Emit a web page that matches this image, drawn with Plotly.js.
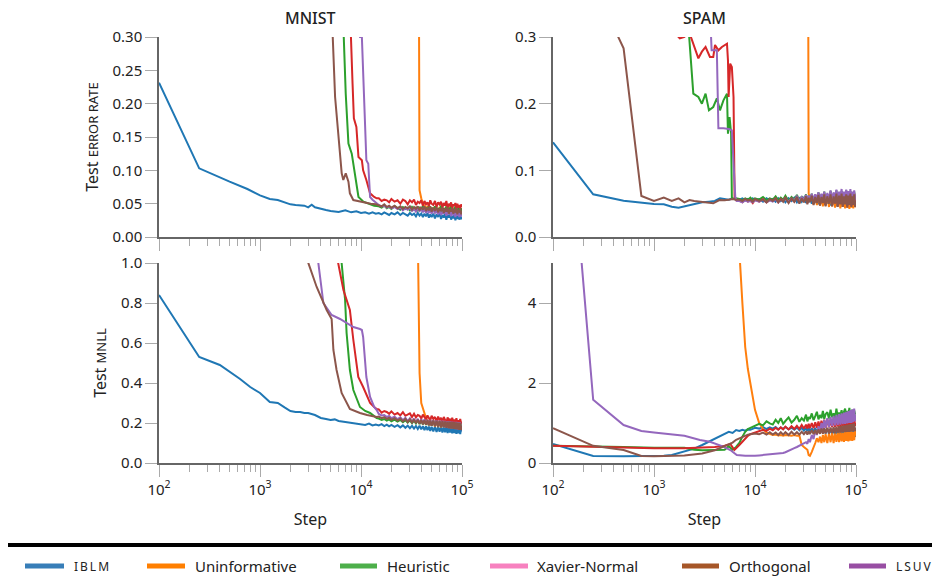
<!DOCTYPE html>
<html>
<head>
<meta charset="utf-8">
<script src="https://cdn.plot.ly/plotly-3.0.1.min.js"></script>
<style>html,body{margin:0;padding:0;background:#fff;}#chart{width:942px;height:582px;}</style>
</head>
<body>
<div id="chart"></div>
<script>
// ---------- categories ----------
const METHODS = ['IBLM', 'Uninformative', 'Heuristic', 'Xavier-Normal', 'Orthogonal', 'LSUV'];
const LINE_COLORS = ['#1f77b4', '#ff7f0e', '#2ca02c', '#d62728', '#8c564b', '#9467bd'];
const LEGEND_COLORS = ['#377eb8', '#ff7f00', '#4daf4a', '#f781bf', '#a65628', '#984ea3'];
const PANEL_TITLES = ['MNIST', 'SPAM'];
const X_TICK_EXPONENTS = [2, 3, 4, 5];

// ---------- shared tail step grids ----------
const TAIL_M = [15000,16000,17000,18000,19000,20000,21500,23000,24500,26000,27500,29000,30500,32000,33500,35000,36500,38000,39500,41000,42500,44000,45500,47000,48500,50000,52000,54000,56000,58000,60000,62000,64000,66000,68000,70000,72000,74000,76000,78000,80000,82000,84000,86000,88000,90000,92000,94000,96000,98000,100000];
const TAIL_S = [7000,7500,8000,8500,9000,9500,10000,11000,12000,13000,14000,15000,16000,17000,18000,19000,20000,21500,23000,24500,26000,27500,29000,30500,32000,33000,34000,35000,36500,38000,39500,41000,42500,44000,45500,47000,48500,50000,52000,54000,56000,58000,60000,62000,64000,66000,68000,70000,72000,74000,76000,78000,80000,82000,84000,86000,88000,90000,92000,94000,96000,98000,100000];

// ================= MNIST test error rate =================
const ERR_M_IBLM_STEPS = [100,250,500,750,1000,1250,1500,1750,2000,2250,2500,2750,3000,3250,3500,4000,4500,5000,6000,7000,8000,9000,10000,11000,12000,13000,14000];
const ERR_M_IBLM = [0.2315,0.103,0.083,0.072,0.0625,0.057,0.0555,0.052,0.049,0.048,0.048,0.047,0.0445,0.0485,0.0445,0.042,0.0405,0.039,0.0375,0.040,0.037,0.0385,0.036,0.037,0.035,0.037,0.035];
const ERR_M_IBLM_TAIL = [0.036,0.034,0.037,0.035,0.033,0.036,0.034,0.037,0.033,0.036,0.034,0.032,0.036,0.033,0.035,0.031,0.036,0.032,0.035,0.030,0.035,0.031,0.036,0.029,0.034,0.030,0.035,0.028,0.034,0.030,0.036,0.027,0.033,0.029,0.035,0.026,0.033,0.029,0.035,0.026,0.032,0.028,0.034,0.025,0.031,0.027,0.033,0.026,0.032,0.027,0.030];

const ERR_M_UNINF_STEPS = [];
const ERR_M_UNINF = [];
const ERR_M_UNINF_TAIL = [null,null,null,null,null,null,null,null,null,null,null,null,null,null,null,null,0.9,0.07,0.058,0.050,0.047,0.042,0.046,0.039,0.045,0.038,0.044,0.036,0.043,0.037,0.045,0.035,0.042,0.036,0.044,0.034,0.042,0.036,0.045,0.033,0.041,0.035,0.044,0.033,0.040,0.035,0.043,0.032,0.040,0.034,0.037];

const ERR_M_HEUR_STEPS = [6400,6750,7060,7510,8100,8750,9440,10560,12000,13500];
const ERR_M_HEUR = [0.6,0.30,0.215,0.14,0.125,0.09,0.06,0.053,0.05,0.047];
const ERR_M_HEUR_TAIL = [0.046,0.044,0.047,0.043,0.045,0.042,0.046,0.043,0.041,0.045,0.042,0.044,0.040,0.045,0.041,0.044,0.039,0.045,0.041,0.046,0.039,0.044,0.040,0.047,0.038,0.044,0.039,0.046,0.037,0.043,0.040,0.047,0.036,0.043,0.039,0.046,0.036,0.044,0.038,0.047,0.035,0.042,0.039,0.046,0.035,0.043,0.038,0.047,0.035,0.041,0.043];

const ERR_M_XAV_STEPS = [7700,7950,8250,8500,9000,9440,10200,10500,11300,12300,13500,14300];
const ERR_M_XAV = [0.6,0.30,0.23,0.178,0.165,0.12,0.115,0.10,0.0855,0.0655,0.06,0.058];
const ERR_M_XAV_TAIL = [0.058,0.054,0.056,0.055,0.052,0.057,0.053,0.055,0.050,0.056,0.054,0.049,0.055,0.052,0.056,0.048,0.053,0.051,0.055,0.047,0.054,0.049,0.052,0.046,0.055,0.050,0.048,0.054,0.045,0.052,0.049,0.053,0.044,0.051,0.047,0.054,0.043,0.050,0.046,0.052,0.042,0.049,0.047,0.051,0.041,0.050,0.044,0.048,0.042,0.049,0.045];

const ERR_M_ORTH_STEPS = [5000,5250,5540,6000,6440,6680,7060,7510,7760,8390,9770,11000,12500,14000];
const ERR_M_ORTH = [0.6,0.30,0.21,0.15,0.0955,0.0855,0.0955,0.083,0.0655,0.0555,0.053,0.051,0.050,0.049];
const ERR_M_ORTH_TAIL = [0.048,0.046,0.049,0.045,0.047,0.044,0.047,0.043,0.046,0.042,0.045,0.043,0.046,0.041,0.045,0.042,0.046,0.040,0.045,0.041,0.046,0.039,0.044,0.040,0.046,0.038,0.044,0.039,0.045,0.037,0.043,0.039,0.045,0.036,0.043,0.038,0.045,0.035,0.042,0.038,0.044,0.035,0.042,0.037,0.044,0.034,0.041,0.037,0.043,0.034,0.039];

const ERR_M_LSUV_STEPS = [9500,9800,10200,11000,11300,11800,12300,13000,13700,14300];
const ERR_M_LSUV = [0.6,0.30,0.30,0.18,0.115,0.11,0.06,0.056,0.053,0.05];
const ERR_M_LSUV_TAIL = [0.048,0.046,0.047,0.044,0.046,0.043,0.045,0.042,0.044,0.040,0.043,0.041,0.044,0.039,0.042,0.038,0.043,0.039,0.041,0.037,0.042,0.036,0.041,0.037,0.040,0.035,0.041,0.036,0.039,0.034,0.040,0.033,0.038,0.035,0.040,0.032,0.038,0.034,0.039,0.031,0.037,0.033,0.039,0.030,0.036,0.032,0.038,0.030,0.036,0.031,0.034];

// ================= MNIST test MNLL =================
const NLL_M_IBLM_STEPS = [100,250,400,635,800,1000,1250,1500,1750,2000,2250,2500,2750,3000,3500,4000,4500,5000,5500,6000,7000,8000,9000,10000,11000,12000,13000,14000];
const NLL_M_IBLM = [0.84,0.53,0.49,0.42,0.38,0.35,0.305,0.30,0.278,0.26,0.255,0.255,0.25,0.25,0.24,0.225,0.22,0.215,0.218,0.21,0.205,0.20,0.198,0.195,0.19,0.197,0.188,0.192];
const NLL_M_IBLM_TAIL = [0.188,0.194,0.185,0.192,0.183,0.190,0.181,0.189,0.178,0.188,0.176,0.187,0.174,0.186,0.172,0.185,0.170,0.186,0.168,0.184,0.165,0.183,0.164,0.182,0.160,0.181,0.158,0.182,0.155,0.180,0.156,0.181,0.152,0.178,0.154,0.180,0.150,0.177,0.152,0.179,0.148,0.176,0.150,0.178,0.146,0.175,0.149,0.177,0.145,0.172,0.158];

const NLL_M_UNINF_STEPS = [];
const NLL_M_UNINF = [];
const NLL_M_UNINF_TAIL = [null,null,null,null,null,null,null,null,null,null,null,null,null,null,null,null,1.15,0.45,0.30,0.27,0.245,0.225,0.215,0.205,0.212,0.186,0.214,0.183,0.210,0.180,0.215,0.178,0.209,0.181,0.216,0.176,0.208,0.180,0.214,0.175,0.207,0.178,0.213,0.174,0.206,0.179,0.212,0.173,0.205,0.177,0.19];

const NLL_M_HEUR_STEPS = [6200,6430,6960,7200,7760,8400,9770,11000,12300,13500,14300];
const NLL_M_HEUR = [1.5,1.0,0.815,0.65,0.465,0.365,0.28,0.26,0.25,0.235,0.225];
const NLL_M_HEUR_TAIL = [0.222,0.215,0.220,0.212,0.218,0.209,0.217,0.207,0.215,0.204,0.214,0.202,0.213,0.199,0.212,0.198,0.214,0.195,0.211,0.193,0.213,0.191,0.210,0.189,0.212,0.187,0.211,0.186,0.212,0.183,0.209,0.184,0.211,0.180,0.208,0.182,0.211,0.178,0.207,0.181,0.210,0.176,0.206,0.180,0.209,0.175,0.205,0.178,0.208,0.174,0.19];

const NLL_M_XAV_STEPS = [5600,5940,6700,7760,8400,9400,10500,12300,13500,14300];
const NLL_M_XAV = [1.5,1.0,0.865,0.765,0.615,0.43,0.38,0.30,0.28,0.27];
const NLL_M_XAV_TAIL = [0.268,0.252,0.260,0.255,0.246,0.258,0.242,0.250,0.238,0.254,0.236,0.244,0.248,0.230,0.246,0.228,0.240,0.236,0.222,0.242,0.226,0.218,0.238,0.224,0.214,0.236,0.220,0.230,0.208,0.232,0.215,0.226,0.205,0.230,0.212,0.200,0.228,0.210,0.222,0.196,0.226,0.205,0.218,0.194,0.224,0.200,0.214,0.192,0.220,0.198,0.205];

const NLL_M_ORTH_STEPS = [2800,3010,3640,4570,5120,5330,5730,6430,7760,9770,11500,13000,14300];
const NLL_M_ORTH = [1.5,1.0,0.88,0.765,0.72,0.565,0.465,0.35,0.27,0.25,0.24,0.235,0.23];
const NLL_M_ORTH_TAIL = [0.232,0.224,0.229,0.220,0.226,0.216,0.224,0.212,0.222,0.208,0.221,0.205,0.219,0.202,0.218,0.199,0.217,0.196,0.216,0.193,0.215,0.191,0.214,0.188,0.213,0.186,0.212,0.184,0.211,0.182,0.210,0.180,0.209,0.178,0.208,0.176,0.207,0.174,0.206,0.172,0.205,0.171,0.204,0.169,0.203,0.168,0.202,0.166,0.201,0.165,0.185];

const NLL_M_LSUV_STEPS = [3500,3780,4240,5120,6200,7200,8400,9770,10200,10500,11300,12300,13500,14300];
const NLL_M_LSUV = [1.5,1.0,0.80,0.74,0.72,0.70,0.68,0.67,0.665,0.63,0.43,0.33,0.28,0.265];
const NLL_M_LSUV_TAIL = [0.245,0.238,0.240,0.230,0.235,0.224,0.232,0.219,0.228,0.214,0.226,0.210,0.224,0.206,0.222,0.203,0.221,0.200,0.219,0.197,0.218,0.194,0.216,0.192,0.215,0.189,0.214,0.187,0.213,0.184,0.212,0.182,0.211,0.180,0.210,0.177,0.209,0.175,0.208,0.173,0.207,0.171,0.206,0.170,0.205,0.168,0.204,0.166,0.203,0.165,0.185];

// ================= SPAM test error rate =================
const ERR_S_IBLM_STEPS = [100,250,500,750,1000,1250,1500,1750,2000,2500,3000,3500,4000,4500,5000,5500,6000,6500];
const ERR_S_IBLM = [0.142,0.064,0.0545,0.051,0.0495,0.049,0.0455,0.044,0.046,0.05,0.052,0.053,0.054,0.058,0.0575,0.056,0.058,0.056];
const ERR_S_IBLM_TAIL = [0.056,0.058,0.055,0.057,0.054,0.058,0.055,0.057,0.053,0.058,0.055,0.057,0.053,0.058,0.054,0.057,0.052,0.058,0.054,0.059,0.052,0.058,0.053,0.060,0.051,0.058,0.052,0.061,0.050,0.059,0.051,0.062,0.049,0.060,0.050,0.062,0.048,0.060,0.050,0.063,0.047,0.061,0.049,0.063,0.046,0.061,0.049,0.064,0.046,0.061,0.048,0.064,0.045,0.062,0.048,0.065,0.045,0.062,0.047,0.064,0.046,0.061,0.050];

const ERR_S_UNINF_STEPS = [];
const ERR_S_UNINF = [];
const ERR_S_UNINF_TAIL = [null,null,null,null,null,null,null,null,null,null,null,null,null,null,null,null,null,null,null,null,null,null,null,null,null,0.9,0.065,0.058,0.063,0.049,0.064,0.048,0.065,0.047,0.063,0.046,0.066,0.047,0.064,0.045,0.066,0.046,0.065,0.044,0.066,0.046,0.064,0.043,0.066,0.045,0.065,0.043,0.066,0.044,0.064,0.042,0.065,0.044,0.066,0.043,0.064,0.045,0.052];

const ERR_S_HEUR_STEPS = [1500,2230,2450,2750,2980,3240,3500,3860,4190,4500,4870,5280,5400,5600,5800,5900,6200,6500];
const ERR_S_HEUR = [0.6,0.30,0.215,0.21,0.20,0.215,0.19,0.195,0.208,0.19,0.205,0.215,0.155,0.18,0.155,0.058,0.057,0.058];
const ERR_S_HEUR_TAIL = [0.057,0.055,0.058,0.056,0.059,0.055,0.058,0.056,0.060,0.055,0.058,0.056,0.061,0.055,0.059,0.056,0.062,0.054,0.060,0.056,0.063,0.054,0.061,0.055,0.064,0.053,0.062,0.055,0.065,0.053,0.063,0.054,0.067,0.052,0.064,0.054,0.068,0.051,0.064,0.053,0.069,0.051,0.065,0.053,0.070,0.050,0.065,0.052,0.069,0.050,0.066,0.052,0.070,0.049,0.066,0.052,0.069,0.049,0.065,0.051,0.068,0.050,0.060];

const ERR_S_XAV_STEPS = [1500,1680,1800,2000,2200,2450,2750,2980,3240,3580,3860,4020,4340,4700,5080,5280,5400,5480,5680,5900,6130,6280,6500];
const ERR_S_XAV = [0.32,0.303,0.298,0.30,0.31,0.29,0.268,0.278,0.285,0.27,0.27,0.288,0.28,0.285,0.288,0.29,0.265,0.21,0.26,0.255,0.21,0.06,0.055];
const ERR_S_XAV_TAIL = [0.055,0.052,0.056,0.053,0.055,0.051,0.056,0.053,0.057,0.052,0.056,0.054,0.058,0.052,0.057,0.054,0.059,0.052,0.058,0.053,0.060,0.052,0.059,0.053,0.061,0.051,0.059,0.053,0.062,0.050,0.060,0.052,0.063,0.050,0.061,0.052,0.064,0.049,0.061,0.051,0.065,0.049,0.062,0.051,0.065,0.048,0.062,0.050,0.066,0.048,0.062,0.050,0.066,0.047,0.063,0.050,0.065,0.047,0.062,0.049,0.066,0.048,0.057];

const ERR_S_ORTH_STEPS = [100,250,500,750,1000,1250,1500,1750,2000,2250,2500,2850,3250,3860,4440,5000,5500,6000,6500];
const ERR_S_ORTH = [0.5,0.38,0.283,0.0615,0.054,0.059,0.054,0.058,0.052,0.0555,0.054,0.053,0.052,0.0505,0.0555,0.055,0.056,0.057,0.056];
const ERR_S_ORTH_TAIL = [0.056,0.054,0.057,0.055,0.056,0.053,0.057,0.054,0.056,0.052,0.057,0.054,0.058,0.052,0.057,0.053,0.059,0.051,0.058,0.053,0.060,0.050,0.058,0.052,0.061,0.049,0.059,0.052,0.062,0.048,0.060,0.051,0.063,0.047,0.060,0.051,0.064,0.046,0.061,0.050,0.064,0.046,0.061,0.050,0.065,0.045,0.062,0.049,0.065,0.045,0.061,0.049,0.064,0.044,0.062,0.048,0.065,0.045,0.061,0.048,0.064,0.045,0.054];

const ERR_S_LSUV_STEPS = [3400,3720,4190,4340,4870,5500,5900,6380,6600];
const ERR_S_LSUV = [0.42,0.28,0.28,0.163,0.163,0.162,0.16,0.06,0.054];
const ERR_S_LSUV_TAIL = [0.054,0.052,0.055,0.053,0.054,0.052,0.055,0.053,0.056,0.052,0.055,0.053,0.057,0.052,0.056,0.054,0.058,0.053,0.058,0.055,0.061,0.054,0.060,0.056,0.063,0.054,0.062,0.056,0.065,0.055,0.064,0.057,0.067,0.055,0.065,0.057,0.068,0.054,0.066,0.057,0.070,0.055,0.067,0.058,0.071,0.055,0.068,0.058,0.072,0.054,0.068,0.057,0.071,0.055,0.069,0.058,0.072,0.054,0.068,0.057,0.070,0.055,0.063];

// ================= SPAM test MNLL =================
const NLL_S_IBLM_STEPS = [100,250,500,750,1000,1250,1500,2000,2500,3000,3500,4000,4500,5000,5500,6000,6500];
const NLL_S_IBLM = [0.475,0.175,0.17,0.17,0.17,0.18,0.2,0.28,0.36,0.45,0.53,0.60,0.67,0.72,0.78,0.75,0.825];
const NLL_S_IBLM_TAIL = [0.80,0.83,0.81,0.84,0.83,0.86,0.88,0.86,0.90,0.85,0.89,0.86,0.90,0.84,0.89,0.85,0.90,0.84,0.88,0.83,0.89,0.82,0.88,0.81,0.87,0.80,0.88,0.79,0.87,0.78,0.88,0.77,0.86,0.76,0.87,0.75,0.86,0.74,0.87,0.73,0.85,0.72,0.86,0.71,0.85,0.70,0.84,0.69,0.85,0.68,0.84,0.68,0.83,0.67,0.84,0.66,0.83,0.66,0.82,0.65,0.83,0.66,0.72];

const NLL_S_UNINF_STEPS = [6500];
const NLL_S_UNINF = [7.5];
const NLL_S_UNINF_TAIL = [5.3,4.0,2.9,2.35,2.0,1.6,1.33,1.0,0.85,0.76,0.72,0.70,0.71,0.69,0.70,0.68,0.70,0.69,0.68,0.70,0.68,0.69,0.45,0.40,0.37,0.33,0.20,0.18,0.28,0.42,0.50,0.62,0.52,0.66,0.50,0.70,0.52,0.72,0.50,0.74,0.52,0.75,0.50,0.74,0.53,0.76,0.52,0.77,0.54,0.76,0.53,0.78,0.55,0.77,0.54,0.78,0.56,0.79,0.55,0.78,0.57,0.80,0.68];

const NLL_S_HEUR_STEPS = [100,250,500,1000,2000,2500,2750,3000,4000,5000,5500,6000,6500];
const NLL_S_HEUR = [0.43,0.42,0.40,0.38,0.38,0.33,0.32,0.32,0.325,0.33,0.42,0.33,0.40];
const NLL_S_HEUR_TAIL = [0.50,0.66,0.78,0.85,0.88,0.92,0.95,0.98,0.94,1.04,0.99,0.96,1.08,1.00,1.12,0.98,1.05,1.14,1.01,1.08,1.18,1.03,1.12,1.06,1.21,1.04,1.15,1.10,1.24,1.07,1.17,1.28,1.09,1.20,1.12,1.30,1.10,1.22,1.27,1.11,1.33,1.14,1.24,1.12,1.36,1.15,1.26,1.19,1.32,1.13,1.28,1.36,1.16,1.30,1.20,1.38,1.15,1.27,1.33,1.17,1.31,1.22,1.25];

const NLL_S_XAV_STEPS = [100,250,500,1000,2000,3000,4000,5000,5700,6250,6500];
const NLL_S_XAV = [0.43,0.40,0.38,0.37,0.37,0.38,0.40,0.43,0.475,0.325,0.36];
const NLL_S_XAV_TAIL = [0.45,0.53,0.62,0.68,0.72,0.74,0.76,0.80,0.83,0.80,0.86,0.82,0.88,0.83,0.89,0.84,0.91,0.84,0.92,0.85,0.93,0.85,0.95,0.86,0.96,0.86,0.98,0.87,1.00,0.87,1.02,0.88,1.04,0.88,1.06,0.89,1.08,0.88,1.10,0.89,1.08,0.90,1.12,0.90,1.10,0.91,1.14,0.90,1.12,0.92,1.15,0.91,1.13,0.92,1.16,0.92,1.14,0.93,1.17,0.92,1.15,0.93,1.00];

const NLL_S_ORTH_STEPS = [100,250,500,750,1000,2000,3000,4000,5000,6000,6500];
const NLL_S_ORTH = [0.87,0.43,0.325,0.175,0.17,0.19,0.24,0.32,0.42,0.51,0.58];
const NLL_S_ORTH_TAIL = [0.62,0.66,0.69,0.71,0.72,0.73,0.74,0.72,0.76,0.71,0.77,0.71,0.76,0.70,0.77,0.71,0.77,0.70,0.78,0.71,0.77,0.71,0.78,0.72,0.79,0.71,0.80,0.72,0.82,0.72,0.83,0.72,0.84,0.73,0.86,0.73,0.87,0.74,0.88,0.74,0.89,0.75,0.90,0.75,0.91,0.76,0.92,0.76,0.93,0.77,0.94,0.77,0.95,0.78,0.96,0.78,0.97,0.79,0.98,0.79,0.99,0.80,0.88];

const NLL_S_LSUV_STEPS = [100,250,500,750,1000,1500,2000,2850,3580,4870,5700,6600];
const NLL_S_LSUV = [13.5,1.58,0.95,0.80,0.76,0.72,0.68,0.575,0.53,0.41,0.325,0.20];
const NLL_S_LSUV_TAIL = [0.19,0.18,0.18,0.18,0.175,0.18,0.18,0.19,0.20,0.21,0.21,0.22,0.225,0.23,0.24,0.25,0.27,0.30,0.34,0.37,0.40,0.43,0.46,0.48,0.52,0.48,0.60,0.52,0.70,0.60,0.82,0.70,0.92,0.78,1.00,0.85,1.08,0.88,1.12,0.90,1.15,0.92,1.18,0.94,1.20,0.95,1.22,0.96,1.24,0.97,1.26,0.98,1.28,0.99,1.30,1.00,1.32,1.00,1.34,1.02,1.36,1.05,1.20];

// ---------- assemble ----------
const PANELS = [
  {xa:'x',  ya:'y',  tail:TAIL_M, s:[
    [ERR_M_IBLM_STEPS,ERR_M_IBLM,ERR_M_IBLM_TAIL],[ERR_M_UNINF_STEPS,ERR_M_UNINF,ERR_M_UNINF_TAIL],
    [ERR_M_HEUR_STEPS,ERR_M_HEUR,ERR_M_HEUR_TAIL],[ERR_M_XAV_STEPS,ERR_M_XAV,ERR_M_XAV_TAIL],
    [ERR_M_ORTH_STEPS,ERR_M_ORTH,ERR_M_ORTH_TAIL],[ERR_M_LSUV_STEPS,ERR_M_LSUV,ERR_M_LSUV_TAIL]]},
  {xa:'x2', ya:'y2', tail:TAIL_S, s:[
    [ERR_S_IBLM_STEPS,ERR_S_IBLM,ERR_S_IBLM_TAIL],[ERR_S_UNINF_STEPS,ERR_S_UNINF,ERR_S_UNINF_TAIL],
    [ERR_S_HEUR_STEPS,ERR_S_HEUR,ERR_S_HEUR_TAIL],[ERR_S_XAV_STEPS,ERR_S_XAV,ERR_S_XAV_TAIL],
    [ERR_S_ORTH_STEPS,ERR_S_ORTH,ERR_S_ORTH_TAIL],[ERR_S_LSUV_STEPS,ERR_S_LSUV,ERR_S_LSUV_TAIL]]},
  {xa:'x3', ya:'y3', tail:TAIL_M, s:[
    [NLL_M_IBLM_STEPS,NLL_M_IBLM,NLL_M_IBLM_TAIL],[NLL_M_UNINF_STEPS,NLL_M_UNINF,NLL_M_UNINF_TAIL],
    [NLL_M_HEUR_STEPS,NLL_M_HEUR,NLL_M_HEUR_TAIL],[NLL_M_XAV_STEPS,NLL_M_XAV,NLL_M_XAV_TAIL],
    [NLL_M_ORTH_STEPS,NLL_M_ORTH,NLL_M_ORTH_TAIL],[NLL_M_LSUV_STEPS,NLL_M_LSUV,NLL_M_LSUV_TAIL]]},
  {xa:'x4', ya:'y4', tail:TAIL_S, s:[
    [NLL_S_IBLM_STEPS,NLL_S_IBLM,NLL_S_IBLM_TAIL],[NLL_S_UNINF_STEPS,NLL_S_UNINF,NLL_S_UNINF_TAIL],
    [NLL_S_HEUR_STEPS,NLL_S_HEUR,NLL_S_HEUR_TAIL],[NLL_S_XAV_STEPS,NLL_S_XAV,NLL_S_XAV_TAIL],
    [NLL_S_ORTH_STEPS,NLL_S_ORTH,NLL_S_ORTH_TAIL],[NLL_S_LSUV_STEPS,NLL_S_LSUV,NLL_S_LSUV_TAIL]]}
];
const DRAW_ORDER = [0, 1, 2, 3, 5, 4]; // Orthogonal drawn last (on top)

const traces = [];
PANELS.forEach(p => {
  DRAW_ORDER.forEach(i => {
    const [hs, hv, tv] = p.s[i];
    traces.push({
      type:'scatter', mode:'lines', name: METHODS[i],
      x: hs.concat(p.tail), y: hv.concat(tv),
      xaxis: p.xa, yaxis: p.ya,
      line:{color: LINE_COLORS[i], width: 2},
      showlegend:false, hoverinfo:'skip'
    });
  });
});

// ---------- layout ----------
const W = 942, H = 582;
const px = v => v / W, py = v => 1 - v / H;
const FONT = 'Noto Sans, Open Sans, sans-serif';
const TICK_LABELS = X_TICK_EXPONENTS.map(e => '10<sup>' + e + '</sup>');
const TICK_VALS = X_TICK_EXPONENTS.map(e => Math.pow(10, e));

function xAxis(dom, showLabels, withTitle) {
  return {
    type:'log', range:[2, 5], domain: dom, autorange:false,
    tickmode:'array', tickvals: TICK_VALS, ticktext: TICK_LABELS, showticklabels: showLabels,
    ticks:'outside', ticklen:12, tickwidth:1, tickcolor:'#aaaaaa',
    minor:{ticks:'outside', ticklen:7, tickwidth:1, tickcolor:'#aaaaaa', showgrid:false, dtick:'D1'},
    showline:true, linecolor:'#666666', linewidth:1.5, showgrid:false, zeroline:false,
    tickfont:{family: FONT, size:15, color:'#222'},
    title: withTitle ? {text:'Step', font:{family: FONT, size:16, color:'#222'}, standoff: 16} : {text:''}
  };
}
function yAxis(dom, range, dtick, fmt, titleText) {
  return {
    range: range, autorange:false, domain: dom, dtick: dtick, tick0: 0, tickformat: fmt,
    ticks:'outside', ticklen:12, tickwidth:1, tickcolor:'#aaaaaa',
    showline:true, linecolor:'#666666', linewidth:1.5, showgrid:false, zeroline:false,
    tickfont:{family: FONT, size:15, color:'#222'},
    title: {text: titleText || '', font:{family: FONT, size:16, color:'#222'}, standoff: 10}
  };
}

const LEFT = [px(159), px(462)], RIGHT = [px(553), px(856)];
const TOP = [py(237), py(37)], BOTTOM = [py(463), py(263)];

const LEGEND_POS = [[25,64,72],[147,185,193],[340,377,385],[490,528,535],[682,719,727],[849,886,894]];
const shapes = [{type:'line', xref:'paper', yref:'paper', x0:px(8), x1:px(932), y0:py(545), y1:py(545), line:{color:'#000', width:4}}];
const annotations = [
  {text: PANEL_TITLES[0], x: px(310), y: py(18), xref:'paper', yref:'paper', xanchor:'center', yanchor:'middle', showarrow:false, font:{family: FONT, size:16, color:'#222', weight:500}},
  {text: PANEL_TITLES[1], x: px(704), y: py(18), xref:'paper', yref:'paper', xanchor:'center', yanchor:'middle', showarrow:false, font:{family: FONT, size:16, color:'#222', weight:500}}
];
METHODS.forEach((m, i) => {
  const [a, b, t] = LEGEND_POS[i];
  shapes.push({type:'line', xref:'paper', yref:'paper', x0:px(a), x1:px(b), y0:py(566), y1:py(566), line:{color: LEGEND_COLORS[i], width:5}});
  const isAcr = m === m.toUpperCase();
  annotations.push({
    text: isAcr ? m.split('').join('\u2009') : m,
    x: px(t), y: py(566), xref:'paper', yref:'paper', xanchor:'left', yanchor:'middle', showarrow:false,
    font:{family: FONT, size: isAcr ? 12 : 15, color:'#222'}
  });
});

const layout = {
  width: W, height: H, margin:{l:0, r:0, t:0, b:0},
  paper_bgcolor:'#ffffff', plot_bgcolor:'#ffffff', showlegend:false,
  font:{family: FONT, size:15, color:'#222'},
  xaxis:  Object.assign(xAxis(LEFT, false, false),  {anchor:'y'}),
  yaxis:  Object.assign(yAxis(TOP, [0, 0.3], 0.05, '.2f', 'Test <span style="font-size:13px">ERROR RATE</span>'), {anchor:'x'}),
  xaxis2: Object.assign(xAxis(RIGHT, false, false), {anchor:'y2'}),
  yaxis2: Object.assign(yAxis(TOP, [0, 0.3], 0.1, '.1f', ''), {anchor:'x2'}),
  xaxis3: Object.assign(xAxis(LEFT, true, true),    {anchor:'y3'}),
  yaxis3: Object.assign(yAxis(BOTTOM, [0, 1.0], 0.2, '.1f', 'Test <span style="font-size:13px">MNLL</span>'), {anchor:'x3'}),
  xaxis4: Object.assign(xAxis(RIGHT, true, true),   {anchor:'y4'}),
  yaxis4: Object.assign(yAxis(BOTTOM, [0, 5], 2, 'd', ''), {anchor:'x4'}),
  shapes: shapes, annotations: annotations
};

Plotly.newPlot('chart', traces, layout, {displayModeBar:false, responsive:false});
</script>
</body>
</html>
